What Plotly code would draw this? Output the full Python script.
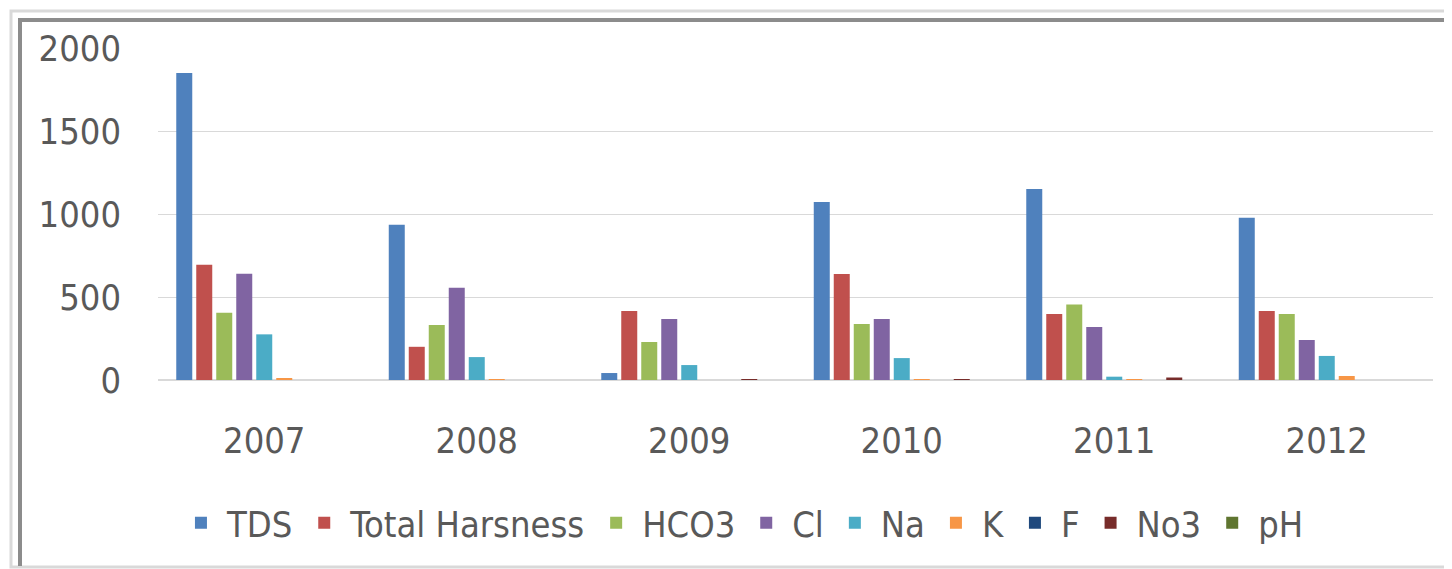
import plotly.graph_objects as go

years = ["2007", "2008", "2009", "2010", "2011", "2012"]
series_names = ["TDS", "Total Harsness", "HCO3", "Cl", "Na", "K", "F", "No3", "pH"]
TDS = [1850, 935, 42, 1072, 1150, 978]
TotalHarsness = [695, 200, 416, 638, 398, 416]
HCO3 = [405, 331, 229, 337, 455, 398]
Cl = [640, 555, 367, 367, 320, 241]
Na = [275, 138, 90, 132, 20, 145]
K = [12, 3, 0, 3, 3, 24]
F = [0, 0, 0, 0, 0, 0]
No3 = [0, 0, 3, 3, 15, 0]
pH = [0, 0, 0, 0, 0, 0]
series_values = [TDS, TotalHarsness, HCO3, Cl, Na, K, F, No3, pH]
colors = ["#4f81bd", "#c0504d", "#9bbb59", "#8064a2", "#4bacc6", "#f79646", "#1f497d", "#772c2a", "#5f7530"]

font_family = "DejaVu Sans Condensed, Liberation Sans Narrow, sans-serif"

fig = go.Figure()
for name, vals, c in zip(series_names, series_values, colors):
    fig.add_trace(go.Bar(x=years, y=vals, name=name, marker=dict(color=c, line=dict(width=0))))

# page offset of the figure (body margin)
OFF = 8
W, H = 1444, 561
L, R, T, B = 150, 1425, 40, 372
def px(x):
    return (x - OFF - L) / (R - L)
def py(y):
    return (B - (y - OFF)) / (B - T)

shapes = [
    dict(type="rect", xref="paper", yref="paper", x0=px(11), x1=px(1450), y0=py(567), y1=py(11),
         line=dict(color="#d9d9d9", width=3), layer="below"),
    dict(type="line", xref="paper", yref="paper", x0=px(18), x1=px(1450), y0=py(20), y1=py(20),
         line=dict(color="#8c8c8c", width=4), layer="below"),
    dict(type="line", xref="paper", yref="paper", x0=px(20), x1=px(20), y0=py(18), y1=py(566),
         line=dict(color="#8c8c8c", width=4), layer="below"),
]

fig.update_layout(
    width=W, height=H,
    margin=dict(l=L, r=W - R, t=T, b=H - B),
    paper_bgcolor="white", plot_bgcolor="white",
    barmode="group", bargap=0.153, bargroupgap=0.2,
    font=dict(family=font_family, color="#595959", size=36),
    showlegend=True,
    legend=dict(orientation="h", x=0.458, xanchor="center", y=-0.43, yanchor="middle",
                font=dict(size=36, color="#595959"), itemwidth=42, traceorder="normal"),
    shapes=shapes,
    xaxis=dict(showgrid=False, showline=False, ticks="", tickfont=dict(size=36, color="#595959"),
               ticklabelstandoff=36),
    yaxis=dict(range=[0, 2000], dtick=500, showgrid=True, gridcolor="#d9d9d9", gridwidth=1,
               zeroline=True, zerolinecolor="#d9d9d9", zerolinewidth=2,
               tickfont=dict(size=36, color="#595959"), ticks="", ticklabelstandoff=36),
)

fig.write_html("out.html")
